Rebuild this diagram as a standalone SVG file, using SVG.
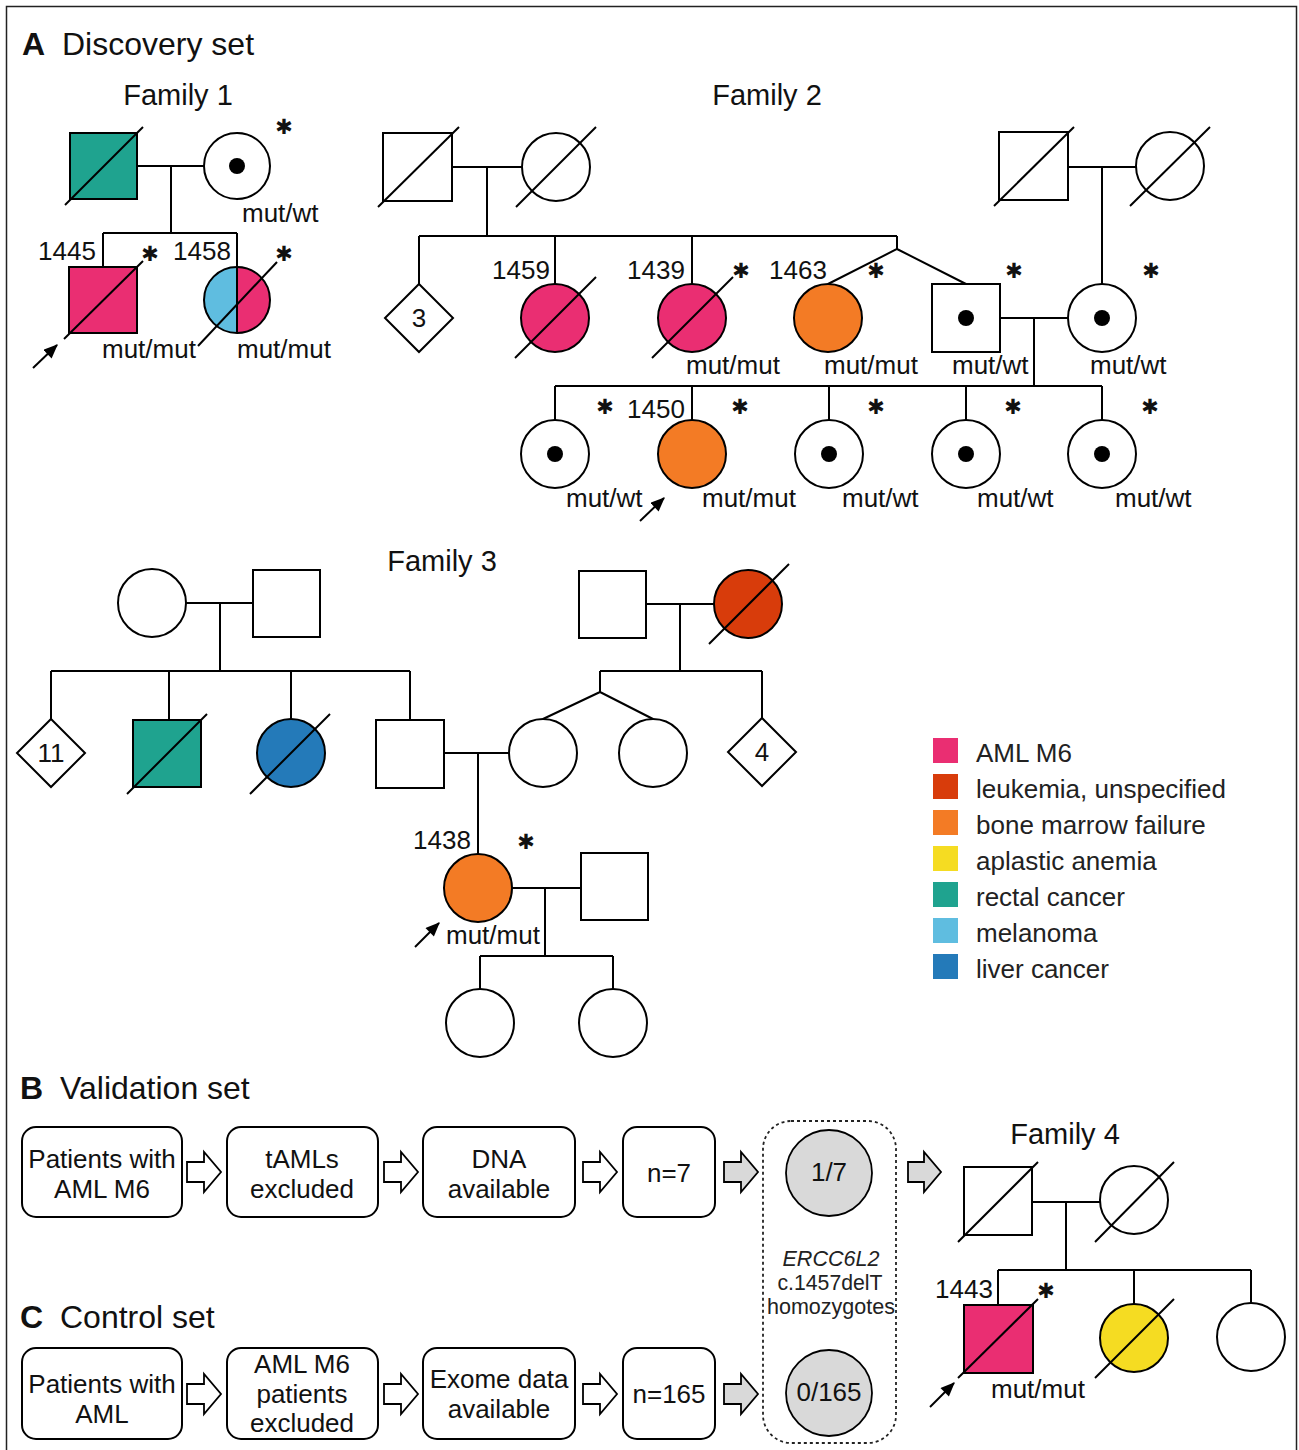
<svg xmlns="http://www.w3.org/2000/svg" width="1299" height="1450" viewBox="0 0 1299 1450">
<defs>
<style>
.ln{stroke:#000;stroke-width:2;fill:none}
.s{stroke:#000;stroke-width:2;fill:#fff}
.d{stroke:#000;stroke-width:2}
.dot{fill:#000}
.t{font-family:"Liberation Sans",Arial,sans-serif;font-size:26px;fill:#111}
.c{text-anchor:middle}
.h{font-family:"Liberation Sans",Arial,sans-serif;font-size:32px;fill:#111}
.fam{font-family:"Liberation Sans",Arial,sans-serif;font-size:29px;fill:#111;text-anchor:middle}
.ast{font-family:"DejaVu Sans",sans-serif;font-size:21px;fill:#111;text-anchor:middle;dominant-baseline:central}
.lg{font-family:"Liberation Sans",Arial,sans-serif;font-size:26px;fill:#222}
.sm{font-family:"Liberation Sans",Arial,sans-serif;font-size:22px;fill:#222;text-anchor:middle}
.box{stroke:#000;stroke-width:2;fill:#fff}
.ba{stroke:#000;stroke-width:1.8;fill:#fff}
.bg{stroke:#000;stroke-width:1.8;fill:#d9d9d9}
.pink{fill:#ea2e72}.red{fill:#d83c0b}.orange{fill:#f37b25}.yellow{fill:#f5dc22}.teal{fill:#1fa38f}.lblue{fill:#5fbde0}.blue{fill:#247ab9}
</style>
<marker id="ah" viewBox="0 0 12 10" refX="11" refY="5" markerWidth="15" markerHeight="12" markerUnits="userSpaceOnUse" orient="auto"><path d="M0,0 L12,5 L0,10 z" fill="#000"/></marker>
</defs>
<rect x="0" y="0" width="1299" height="1450" fill="#fff"/>
<rect x="6.5" y="6.5" width="1290" height="1460" fill="none" stroke="#222" stroke-width="1.5"/>

<text x="22" y="55" class="h" font-weight="bold">A</text>
<text x="62" y="55" class="h">Discovery set</text>
<text x="178" y="105" class="fam">Family 1</text>
<text x="767" y="105" class="fam">Family 2</text>
<text x="442" y="571" class="fam">Family 3</text>
<text x="1065" y="1144" class="fam">Family 4</text>
<text x="20" y="1099" class="h" font-weight="bold">B</text>
<text x="60" y="1099" class="h">Validation set</text>
<text x="20" y="1328" class="h" font-weight="bold">C</text>
<text x="60" y="1328" class="h">Control set</text>

<g id="connectors">
<!-- Family 1 -->
<path class="ln" d="M137,166H204M171,166V233M103,233H237M103,233V267M237,233V267"/>
<!-- Family 2 -->
<path class="ln" d="M452,167H522M487,167V236M419,236H897M419,236V284M555,236V284M692,236V284M897,236V249L828,284M897,249L966,284"/>
<path class="ln" d="M1068,167H1136M1102,167V284M1000,318H1068M1034,318V386M555,386H1102M555,386V420M692,386V420M829,386V420M966,386V420M1102,386V420"/>
<!-- Family 3 -->
<path class="ln" d="M186,603H253M220,603V671M51,671H410M51,671V719M169,671V720M291,671V719M410,671V720"/>
<path class="ln" d="M646,604H714M680,604V671M600,671H762M600,671V692L543,719M600,692L653,719M762,671V718"/>
<path class="ln" d="M444,753H509M478,753V854M512,888H581M545,888V956M480,956H613M480,956V989M613,956V989"/>
<!-- Family 4 -->
<path class="ln" d="M1032,1202H1100M1066,1202V1270M998,1270H1251M998,1270V1305M1134,1270V1304M1251,1270V1303"/>
<!-- proband arrows -->
<line class="ln" x1="33" y1="368" x2="57" y2="345" marker-end="url(#ah)"/>
<line class="ln" x1="640" y1="521" x2="664" y2="498" marker-end="url(#ah)"/>
<line class="ln" x1="415" y1="947" x2="439" y2="923" marker-end="url(#ah)"/>
<line class="ln" x1="930" y1="1407" x2="954" y2="1383" marker-end="url(#ah)"/>
<!-- block arrows -->
<path class="ba" d="M187,1162H204V1152L221,1172L204,1192V1182H187Z"/>
<path class="ba" d="M384,1162H401V1152L418,1172L401,1192V1182H384Z"/>
<path class="ba" d="M583,1162H600V1152L617,1172L600,1192V1182H583Z"/>
<path class="bg" d="M724,1162H741V1152L758,1172L741,1192V1182H724Z"/>
<path class="ba" d="M187,1384H204V1374L221,1394L204,1414V1404H187Z"/>
<path class="ba" d="M384,1384H401V1374L418,1394L401,1414V1404H384Z"/>
<path class="ba" d="M583,1384H600V1374L617,1394L600,1414V1404H583Z"/>
<path class="bg" d="M724,1384H741V1374L758,1394L741,1414V1404H724Z"/>
<path class="bg" d="M908,1162H924V1152L941,1172L924,1192V1182H908Z"/>
</g>

<!-- Family 1 -->
<g id="f1-father"><rect x="70" y="133" width="67" height="66" class="s teal"/><line class="d" x1="65" y1="205" x2="143" y2="127"/></g>
<g id="f1-mother"><circle cx="237" cy="166" r="33" class="s"/><circle cx="237" cy="166" r="8" class="dot"/><text x="284" y="127" class="ast">✱</text><text x="242" y="222" class="t">mut/wt</text></g>
<g id="f1-1445"><rect x="69" y="267" width="68" height="66" class="s pink"/><line class="d" x1="64" y1="339" x2="143" y2="261"/><text x="38" y="260" class="t">1445</text><text x="150" y="254" class="ast">✱</text><text x="102" y="358" class="t">mut/mut</text></g>
<g id="f1-1458"><path d="M237,267A33,33 0 0 0 237,333Z" class="lblue"/><path d="M237,267A33,33 0 0 1 237,333Z" class="pink"/><circle cx="237" cy="300" r="33" fill="none" stroke="#000" stroke-width="2"/><line class="d" x1="237" y1="267" x2="237" y2="333"/><line class="d" x1="198" y1="346" x2="277" y2="262"/><text x="173" y="260" class="t">1458</text><text x="284" y="254" class="ast">✱</text><text x="237" y="358" class="t">mut/mut</text></g>

<!-- Family 2 -->
<g id="f2-gf1"><rect x="383" y="133" width="69" height="68" class="s"/><line class="d" x1="378" y1="207" x2="459" y2="127"/></g>
<g id="f2-gm1"><circle cx="556" cy="167" r="34" class="s"/><line class="d" x1="516" y1="207" x2="596" y2="127"/></g>
<g id="f2-sib3"><polygon points="419,284 453,318 419,352 385,318" class="s"/><text x="419" y="327" class="t c">3</text></g>
<g id="f2-1459"><circle cx="555" cy="318" r="34" class="s pink"/><line class="d" x1="515" y1="358" x2="596" y2="277"/><text x="492" y="279" class="t">1459</text></g>
<g id="f2-1439"><circle cx="692" cy="318" r="34" class="s pink"/><line class="d" x1="652" y1="358" x2="733" y2="277"/><text x="627" y="279" class="t">1439</text><text x="741" y="271" class="ast">✱</text><text x="686" y="374" class="t">mut/mut</text></g>
<g id="f2-1463"><circle cx="828" cy="318" r="34" class="s orange"/><text x="769" y="279" class="t">1463</text><text x="876" y="271" class="ast">✱</text><text x="824" y="374" class="t">mut/mut</text></g>
<g id="f2-father"><rect x="932" y="284" width="68" height="68" class="s"/><circle cx="966" cy="318" r="8" class="dot"/><text x="1014" y="271" class="ast">✱</text><text x="952" y="374" class="t">mut/wt</text></g>
<g id="f2-gf2"><rect x="999" y="132" width="69" height="68" class="s"/><line class="d" x1="994" y1="206" x2="1074" y2="127"/></g>
<g id="f2-gm2"><circle cx="1170" cy="166" r="34" class="s"/><line class="d" x1="1130" y1="206" x2="1210" y2="127"/></g>
<g id="f2-mother"><circle cx="1102" cy="318" r="34" class="s"/><circle cx="1102" cy="318" r="8" class="dot"/><text x="1151" y="271" class="ast">✱</text><text x="1090" y="374" class="t">mut/wt</text></g>
<g id="f2-c1"><circle cx="555" cy="454" r="34" class="s"/><circle cx="555" cy="454" r="8" class="dot"/><text x="605" y="407" class="ast">✱</text><text x="566" y="507" class="t">mut/wt</text></g>
<g id="f2-1450"><circle cx="692" cy="454" r="34" class="s orange"/><text x="627" y="418" class="t">1450</text><text x="740" y="407" class="ast">✱</text><text x="702" y="507" class="t">mut/mut</text></g>
<g id="f2-c3"><circle cx="829" cy="454" r="34" class="s"/><circle cx="829" cy="454" r="8" class="dot"/><text x="876" y="407" class="ast">✱</text><text x="842" y="507" class="t">mut/wt</text></g>
<g id="f2-c4"><circle cx="966" cy="454" r="34" class="s"/><circle cx="966" cy="454" r="8" class="dot"/><text x="1013" y="407" class="ast">✱</text><text x="977" y="507" class="t">mut/wt</text></g>
<g id="f2-c5"><circle cx="1102" cy="454" r="34" class="s"/><circle cx="1102" cy="454" r="8" class="dot"/><text x="1150" y="407" class="ast">✱</text><text x="1115" y="507" class="t">mut/wt</text></g>

<!-- Family 3 -->
<g id="f3-gm1"><circle cx="152" cy="603" r="34" class="s"/></g>
<g id="f3-gf1"><rect x="253" y="570" width="67" height="67" class="s"/></g>
<g id="f3-sib11"><polygon points="51,719 85,753 51,787 17,753" class="s"/><text x="51" y="762" class="t c">11</text></g>
<g id="f3-uncle"><rect x="133" y="720" width="68" height="67" class="s teal"/><line class="d" x1="127" y1="794" x2="207" y2="714"/></g>
<g id="f3-aunt"><circle cx="291" cy="753" r="34" class="s blue"/><line class="d" x1="250" y1="794" x2="330" y2="714"/></g>
<g id="f3-father"><rect x="376" y="720" width="68" height="68" class="s"/></g>
<g id="f3-mother"><circle cx="543" cy="753" r="34" class="s"/></g>
<g id="f3-twin"><circle cx="653" cy="753" r="34" class="s"/></g>
<g id="f3-sib4"><polygon points="762,718 796,752 762,786 728,752" class="s"/><text x="762" y="761" class="t c">4</text></g>
<g id="f3-gf2"><rect x="579" y="571" width="67" height="67" class="s"/></g>
<g id="f3-gm2"><circle cx="748" cy="604" r="34" class="s red"/><line class="d" x1="709" y1="644" x2="789" y2="564"/></g>
<g id="f3-1438"><circle cx="478" cy="888" r="34" class="s orange"/><text x="413" y="849" class="t">1438</text><text x="526" y="842" class="ast">✱</text><text x="446" y="944" class="t">mut/mut</text></g>
<g id="f3-spouse"><rect x="581" y="853" width="67" height="67" class="s"/></g>
<g id="f3-d1"><circle cx="480" cy="1023" r="34" class="s"/></g>
<g id="f3-d2"><circle cx="613" cy="1023" r="34" class="s"/></g>

<!-- Legend -->
<g id="legend">
<rect x="933" y="738" width="25" height="25" class="pink"/><text x="976" y="762" class="lg">AML M6</text>
<rect x="933" y="774" width="25" height="25" class="red"/><text x="976" y="798" class="lg">leukemia, unspecified</text>
<rect x="933" y="810" width="25" height="25" class="orange"/><text x="976" y="834" class="lg">bone marrow failure</text>
<rect x="933" y="846" width="25" height="25" class="yellow"/><text x="976" y="870" class="lg">aplastic anemia</text>
<rect x="933" y="882" width="25" height="25" class="teal"/><text x="976" y="906" class="lg">rectal cancer</text>
<rect x="933" y="918" width="25" height="25" class="lblue"/><text x="976" y="942" class="lg">melanoma</text>
<rect x="933" y="954" width="25" height="25" class="blue"/><text x="976" y="978" class="lg">liver cancer</text>
</g>

<!-- B / C flow -->
<g id="b1"><rect x="22" y="1127" width="160" height="90" rx="14" class="box"/><text x="102" y="1168" class="t c">Patients with</text><text x="102" y="1198" class="t c">AML M6</text></g>
<g id="b2"><rect x="227" y="1127" width="151" height="90" rx="14" class="box"/><text x="302" y="1168" class="t c">tAMLs</text><text x="302" y="1198" class="t c">excluded</text></g>
<g id="b3"><rect x="423" y="1127" width="152" height="90" rx="14" class="box"/><text x="499" y="1168" class="t c">DNA</text><text x="499" y="1198" class="t c">available</text></g>
<g id="b4"><rect x="623" y="1127" width="92" height="90" rx="14" class="box"/><text x="669" y="1182" class="t c">n=7</text></g>
<g id="c1"><rect x="22" y="1348" width="160" height="91" rx="14" class="box"/><text x="102" y="1393" class="t c">Patients with</text><text x="102" y="1423" class="t c">AML</text></g>
<g id="c2"><rect x="227" y="1348" width="151" height="91" rx="14" class="box"/><text x="302" y="1373" class="t c">AML M6</text><text x="302" y="1403" class="t c">patients</text><text x="302" y="1432" class="t c">excluded</text></g>
<g id="c3"><rect x="423" y="1348" width="152" height="91" rx="14" class="box"/><text x="499" y="1388" class="t c">Exome data</text><text x="499" y="1418" class="t c">available</text></g>
<g id="c4"><rect x="623" y="1348" width="92" height="91" rx="14" class="box"/><text x="669" y="1403" class="t c">n=165</text></g>
<g id="result"><rect x="763" y="1121" width="133" height="322" rx="28" fill="none" stroke="#222" stroke-width="1.8" stroke-dasharray="3,3"/>
<circle cx="829" cy="1173" r="43" class="bg" stroke-width="2"/><text x="829" y="1181" class="t c" font-size="23">1/7</text>
<text x="831" y="1266" class="sm" font-style="italic" textLength="97" lengthAdjust="spacingAndGlyphs">ERCC6L2</text>
<text x="830" y="1290" class="sm" textLength="105" lengthAdjust="spacingAndGlyphs">c.1457delT</text>
<text x="831" y="1314" class="sm" textLength="128" lengthAdjust="spacingAndGlyphs">homozygotes</text>
<circle cx="829" cy="1393" r="43" class="bg" stroke-width="2"/><text x="829" y="1401" class="t c" font-size="23">0/165</text></g>

<!-- Family 4 -->
<g id="f4-father"><rect x="964" y="1167" width="68" height="68" class="s"/><line class="d" x1="958" y1="1242" x2="1038" y2="1162"/></g>
<g id="f4-mother"><circle cx="1134" cy="1200" r="34" class="s"/><line class="d" x1="1095" y1="1242" x2="1174" y2="1162"/></g>
<g id="f4-1443"><rect x="964" y="1305" width="69" height="68" class="s pink"/><line class="d" x1="958" y1="1378" x2="1038" y2="1299"/><text x="935" y="1298" class="t">1443</text><text x="1046" y="1291" class="ast">✱</text><text x="991" y="1398" class="t">mut/mut</text></g>
<g id="f4-sister"><circle cx="1134" cy="1338" r="34" class="s yellow"/><line class="d" x1="1095" y1="1378" x2="1174" y2="1299"/></g>
<g id="f4-sister2"><circle cx="1251" cy="1337" r="34" class="s"/></g>
</svg>
